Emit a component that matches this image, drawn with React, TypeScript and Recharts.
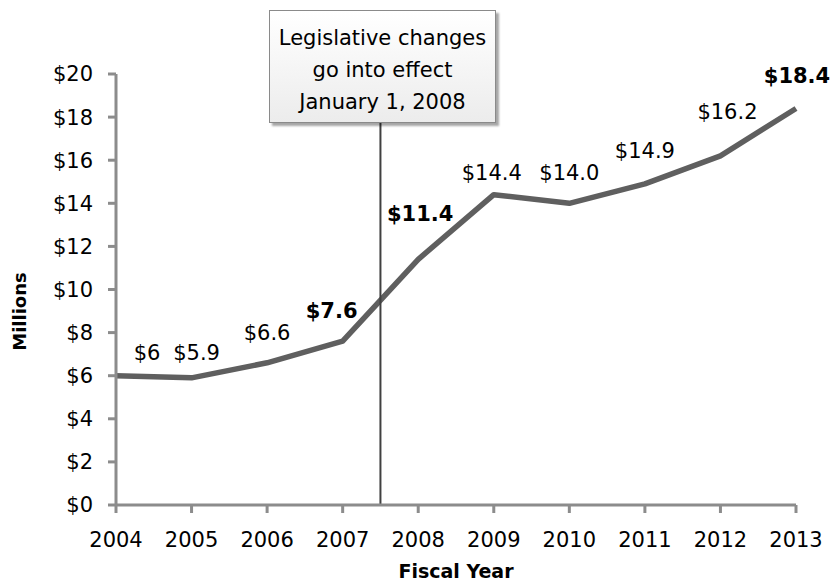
import { LineChart, Line, XAxis, YAxis, ReferenceLine, LabelList } from 'recharts';

// fiscal years and program cost in millions of dollars
const YEARS = [2004, 2005, 2006, 2007, 2008, 2009, 2010, 2011, 2012, 2013];
const COST = [6.0, 5.9, 6.6, 7.6, 11.4, 14.4, 14.0, 14.9, 16.2, 18.4];
const COST_LABELS = ['$6', '$5.9', '$6.6', '$7.6', '$11.4', '$14.4', '$14.0', '$14.9', '$16.2', '$18.4'];
const Y_TICKS = [0, 2, 4, 6, 8, 10, 12, 14, 16, 18, 20];
const CHANGE_YEAR = 2007.5;
const NOTE_LINES = ['Legislative changes', 'go into effect', 'January 1, 2008'];

// label placement / styling (not data)
const LABEL_DX = [31, 5, 0, -11, 2, -2, 0, 0, 7, 1];
const LABEL_DY = [-23, -25, -30, -31, -46, -22, -31, -33, -44, -33];
const BOLD_LABELS = [3, 4, 9];

const FONT = '"DejaVu Sans", sans-serif';
const AXIS = '#8c8c8c';
const LINE = '#5f5f5f';

const data = YEARS.map((year, i) => ({ year, cost: COST[i] }));

function CostLabel(props: any) {
  const { x, y, index } = props;
  const bold = BOLD_LABELS.includes(index);
  return (
    <text
      x={x + LABEL_DX[index]}
      y={y + LABEL_DY[index] + 7.5}
      textAnchor="middle"
      fontFamily={FONT}
      fontSize={21}
      fontWeight={bold ? 700 : 400}
      fill="#000"
    >
      {COST_LABELS[index]}
    </text>
  );
}

function MillionsLabel(props: any) {
  const { viewBox } = props;
  const cx = 19;
  const cy = viewBox.y + viewBox.height / 2 + 22;
  return (
    <text
      x={cx}
      y={cy}
      transform={`rotate(-90, ${cx}, ${cy})`}
      textAnchor="middle"
      dominantBaseline="central"
      fontFamily={FONT}
      fontSize={18}
      fontWeight={700}
      fill="#000"
    >
      Millions
    </text>
  );
}

export default function App() {
  return (
    <div style={{ position: 'absolute', left: 0, top: 0, width: 836, height: 583, background: '#fff' }}>
      <LineChart width={836} height={583} data={data} margin={{ top: 74, right: 40, bottom: 0, left: 0 }}>
        <XAxis
          dataKey="year"
          type="number"
          domain={[2004, 2013]}
          ticks={YEARS}
          height={78}
          stroke={AXIS}
          strokeWidth={3}
          tickSize={8}
          tickMargin={19}
          tick={{ fill: '#000', fontFamily: FONT, fontSize: 21 }}
          label={{
            value: 'Fiscal Year',
            position: 'insideBottom',
            offset: 5,
            fill: '#000',
            fontFamily: FONT,
            fontSize: 19,
            fontWeight: 700,
          }}
        />
        <YAxis
          type="number"
          domain={[0, 20]}
          ticks={Y_TICKS}
          width={116}
          stroke={AXIS}
          strokeWidth={3}
          tickSize={8}
          tickMargin={15}
          tickFormatter={(v) => `$${v}`}
          tick={{ fill: '#000', fontFamily: FONT, fontSize: 21 }}
          label={<MillionsLabel />}
        />
        <Line
          type="linear"
          dataKey="cost"
          stroke={LINE}
          strokeWidth={5.5}
          strokeLinejoin="round"
          dot={false}
          isAnimationActive={false}
        >
          <LabelList dataKey="cost" content={<CostLabel />} />
        </Line>
        <ReferenceLine x={CHANGE_YEAR} stroke="#404040" strokeWidth={2} />
      </LineChart>
      <div
        style={{
          position: 'absolute',
          left: 269,
          top: 10,
          width: 227,
          height: 113,
          boxSizing: 'border-box',
          border: '1px solid #8a8a8a',
          background: 'linear-gradient(#ffffff, #ececec)',
          boxShadow: '3px 3px 2px rgba(0,0,0,0.35)',
          fontFamily: FONT,
          fontSize: 21,
          lineHeight: '32px',
          textAlign: 'center',
          color: '#000',
          paddingTop: 11,
        }}
      >
        {NOTE_LINES.map((t) => (
          <div key={t}>{t}</div>
        ))}
      </div>
    </div>
  );
}
